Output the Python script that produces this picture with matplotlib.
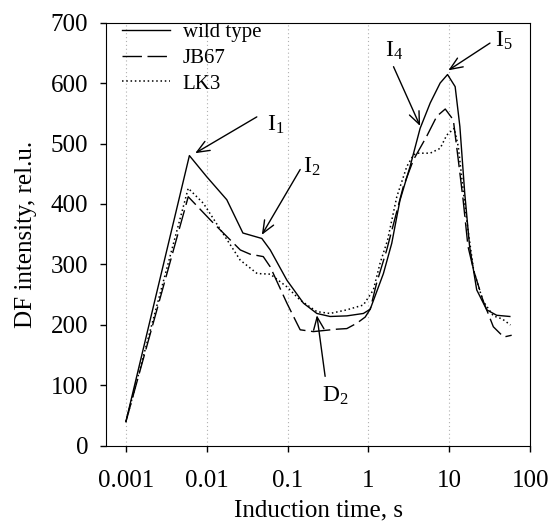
import matplotlib
matplotlib.use('Agg')
import matplotlib.pyplot as plt

plt.rcParams['font.family'] = 'Liberation Serif'
plt.rcParams['mathtext.fontset'] = 'custom'
plt.rcParams['mathtext.rm'] = 'Liberation Serif'
plt.rcParams['mathtext.it'] = 'Liberation Serif'

# wild type
t_wt = [0.001, 0.0061, 0.01, 0.0177, 0.028, 0.048, 0.061, 0.098, 0.157, 0.23, 0.335, 0.54, 0.865,
        1.05, 1.53, 1.94, 2.45, 3.27, 4.35, 5.8, 7.7, 9.5, 11.8, 13.5, 15.5, 17.8, 21.8, 29, 38.5, 56]
y_wt = [40, 480, 445, 407, 352, 343, 324, 274, 236, 219, 214, 215, 219,
        226, 285, 335, 406, 462, 525, 567, 600, 614, 594, 528, 418, 330, 258, 225, 216, 214]

# JB67
t_jb = [0.001, 0.0059, 0.011, 0.0147, 0.026, 0.0344, 0.05, 0.061, 0.098, 0.13, 0.143, 0.208, 0.405,
        0.54, 0.72, 0.91, 1.05, 1.26, 1.68, 2.7, 3.6, 5.25, 7.0, 8.9, 11.2, 12.9, 14.8, 17, 20, 26,
        35, 47, 59]
y_jb = [40, 412, 374, 357, 324, 317, 313, 296, 236, 203, 192, 189, 193,
        194, 203, 213, 226, 269, 324, 429, 473, 512, 545, 557, 539, 473, 407, 330, 290, 241,
        197, 180, 183]

# LK3
t_lk = [0.001, 0.0059, 0.0091, 0.026, 0.042, 0.061, 0.098, 0.143, 0.23, 0.335, 0.54, 0.865, 1.15,
        1.39, 1.72, 2.24, 2.98, 3.6, 3.95, 5.8, 7.7, 9.3, 11.5, 12.9, 14.2, 16.5, 20, 26, 35, 45, 57]
y_lk = [40, 426, 401, 307, 285, 284, 263, 241, 222, 219, 225, 233, 258,
        302, 340, 412, 462, 481, 484, 484, 492, 514, 525, 495, 445, 370, 290, 240, 215, 210, 200]

x_ticks = [0.001, 0.01, 0.1, 1, 10, 100]
x_tick_labels = ['0.001', '0.01', '0.1', '1', '10', '100']
y_ticks = [0, 100, 200, 300, 400, 500, 600, 700]

# peak labels: text, text position, arrow start, arrow tip
marks = [
    (r'$\mathrm{I}_1$', (0.0553, 521), (0.0416, 544), (0.0072, 484)),
    (r'$\mathrm{I}_2$', (0.157, 451), (0.143, 457), (0.048, 349)),
    (r'$\mathrm{D}_2$', (0.265, 73), (0.291, 115), (0.23, 216)),
    (r'$\mathrm{I}_4$', (1.6, 644), (2.04, 627), (4.35, 529)),
    (r'$\mathrm{I}_5$', (36.7, 660), (31.8, 666), (9.73, 621)),
]

fig = plt.figure(figsize=(5.5, 5.24), dpi=100)
ax = fig.add_axes([0.193, 0.149, 0.771, 0.808])

# decade grid lines
for xt in x_ticks[:-1]:
    ax.axvline(xt, color='#b0b0b0', lw=0.8, ls=(0, (1, 2.5)), zorder=0)

ax.plot(t_wt, y_wt, color='black', lw=1.0, ls='-', label='wild type')
ax.plot(t_jb, y_jb, color='black', lw=1.0, ls=(0, (14, 4)), label='JB67')
ax.plot(t_lk, y_lk, color='black', lw=1.1, ls=(0, (1, 1.8)), label='LK3')

for txt, pos, start, tip in marks:
    ax.text(pos[0], pos[1], txt, fontsize=17, ha='left', va='baseline')
    ax.annotate('', xy=tip, xytext=start,
                arrowprops=dict(arrowstyle='->,head_length=0.6,head_width=0.25', lw=1.0,
                                color='black', shrinkA=0, shrinkB=0, mutation_scale=15))

ax.set_xscale('log')
ax.set_xlim(0.00057, 100)
ax.set_ylim(0, 700)
ax.set_xticks(x_ticks)
ax.set_xticklabels(x_tick_labels)
ax.minorticks_off()
ax.set_yticks(y_ticks)
ax.tick_params(direction='out', length=4.5, width=1, labelsize=18)
ax.tick_params(axis='x', pad=13)
ax.tick_params(axis='y', pad=8.5)
ax.set_xlabel('Induction time, s', fontsize=18, labelpad=5)
ax.set_ylabel('DF intensity, rel.u.', fontsize=18, labelpad=10)

ax.legend(loc='upper left', bbox_to_anchor=(0.038, 1.0), frameon=False, fontsize=15,
          borderpad=0, borderaxespad=0, handlelength=2.3, handletextpad=0.6, labelspacing=0.3)

fig.savefig('out.png', dpi=100)
